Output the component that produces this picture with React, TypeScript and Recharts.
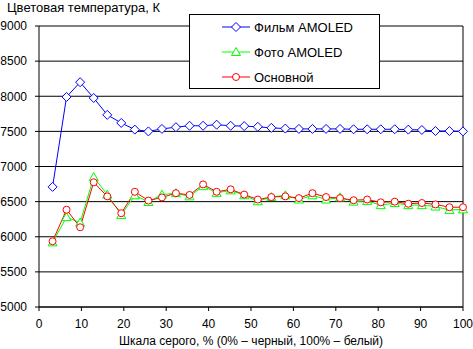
import { LineChart, Line, XAxis, YAxis, CartesianGrid, ReferenceLine } from 'recharts';

// gray scale steps, %
const steps = [3.2, 6.5, 9.7, 12.9, 16.1, 19.4, 22.6, 25.8, 29.0, 32.3, 35.5, 38.7, 41.9, 45.2, 48.4, 51.6, 54.8, 58.1, 61.3, 64.5, 67.7, 71.0, 74.2, 77.4, 80.6, 83.9, 87.1, 90.3, 93.5, 96.8, 100];

const filmAmoled = [6710, 7990, 8200, 7975, 7735, 7620, 7525, 7500, 7535, 7560, 7580, 7580, 7595, 7580, 7575, 7565, 7550, 7540, 7535, 7535, 7535, 7535, 7530, 7530, 7530, 7530, 7525, 7520, 7505, 7505, 7500];
const photoAmoled = [5920, 6280, 6200, 6850, 6600, 6310, 6590, 6495, 6600, 6620, 6575, 6720, 6625, 6660, 6590, 6505, 6565, 6590, 6530, 6590, 6530, 6560, 6500, 6510, 6450, 6480, 6450, 6450, 6430, 6380, 6390];
const basic = [5935, 6385, 6135, 6775, 6575, 6335, 6640, 6515, 6560, 6620, 6595, 6745, 6640, 6675, 6600, 6530, 6565, 6575, 6550, 6620, 6565, 6550, 6520, 6530, 6490, 6500, 6470, 6480, 6460, 6420, 6420];

const xTicks = [0, 10, 20, 30, 40, 50, 60, 70, 80, 90, 100];
const yTicks = [5000, 5500, 6000, 6500, 7000, 7500, 8000, 8500, 9000];

const FONT = 'Arial, "Liberation Sans", sans-serif';

const data = steps.map((x, i) => ({ x, film: filmAmoled[i], photo: photoAmoled[i], basic: basic[i] }));

const Diamond = ({ cx, cy, color }: any) => (
  <polygon points={`${cx},${cy - 4.5} ${cx + 4.5},${cy} ${cx},${cy + 4.5} ${cx - 4.5},${cy}`} fill="#fff" stroke={color} strokeWidth={1} />
);
const Triangle = ({ cx, cy, color }: any) => (
  <polygon points={`${cx},${cy - 4.5} ${cx + 4.5},${cy + 3.5} ${cx - 4.5},${cy + 3.5}`} fill="#fff" stroke={color} strokeWidth={1} />
);
const Circle = ({ cx, cy, color }: any) => <circle cx={cx} cy={cy} r={3.5} fill="#fff" stroke={color} strokeWidth={1} />;

const series = [
  { key: 'film', name: 'Фильм AMOLED', color: '#0000ff', Mark: Diamond },
  { key: 'photo', name: 'Фото AMOLED', color: '#00ff00', Mark: Triangle },
  { key: 'basic', name: 'Основной', color: '#ff0000', Mark: Circle },
];

function LegendBox() {
  return (
    <div style={{ position: 'absolute', left: 189, top: 14, width: 189, height: 73, border: '1px solid #000', background: '#fff' }}>
      {series.map((s, i) => (
        <div key={s.key} style={{ position: 'absolute', left: 31, top: 4 + i * 25, height: 16, display: 'flex', alignItems: 'center', fontFamily: FONT, fontSize: 13, color: '#000', whiteSpace: 'nowrap' }}>
          <svg width={30} height={12} style={{ marginRight: 3 }}>
            <line x1={1} y1={6} x2={29} y2={6} stroke={s.color} />
            <s.Mark cx={15} cy={6} color={s.color} />
          </svg>
          {s.name}
        </div>
      ))}
    </div>
  );
}

export default function App() {
  return (
    <div style={{ position: 'absolute', left: 0, top: 0, width: 473, height: 349, background: '#fff' }}>
      <div style={{ position: 'absolute', left: 7, top: 0, fontFamily: FONT, fontSize: 13, color: '#000', whiteSpace: 'nowrap' }}>
        Цветовая температура, К
      </div>
      <LineChart width={473} height={349} data={data} margin={{ top: 26, right: 10, bottom: 0, left: 0 }}>
        <CartesianGrid horizontal vertical={false} stroke="#000" strokeWidth={1} />
        <XAxis
          dataKey="x"
          type="number"
          domain={[0, 100]}
          ticks={xTicks}
          height={42}
          tickSize={4}
          tickMargin={8}
          stroke="#000"
          tick={{ fill: '#000', fontSize: 12, fontFamily: FONT }}
          label={{ value: 'Шкала серого, % (0% – черный, 100% – белый)', position: 'insideBottom', offset: 4, fill: '#000', fontSize: 12, fontFamily: FONT }}
        />
        <YAxis
          type="number"
          domain={[5000, 9000]}
          ticks={yTicks}
          width={39}
          tickSize={4}
          tickMargin={8}
          stroke="#000"
          tick={{ fill: '#000', fontSize: 12, fontFamily: FONT }}
        />
        <ReferenceLine x={100} stroke="#000" />
        {series.map((s) => (
          <Line
            key={s.key}
            dataKey={s.key}
            name={s.name}
            stroke={s.color}
            strokeWidth={1}
            isAnimationActive={false}
            dot={(p: any) => <s.Mark key={`${s.key}-${p.index}`} cx={p.cx} cy={p.cy} color={s.color} />}
          />
        ))}
      </LineChart>
      <LegendBox />
    </div>
  );
}
